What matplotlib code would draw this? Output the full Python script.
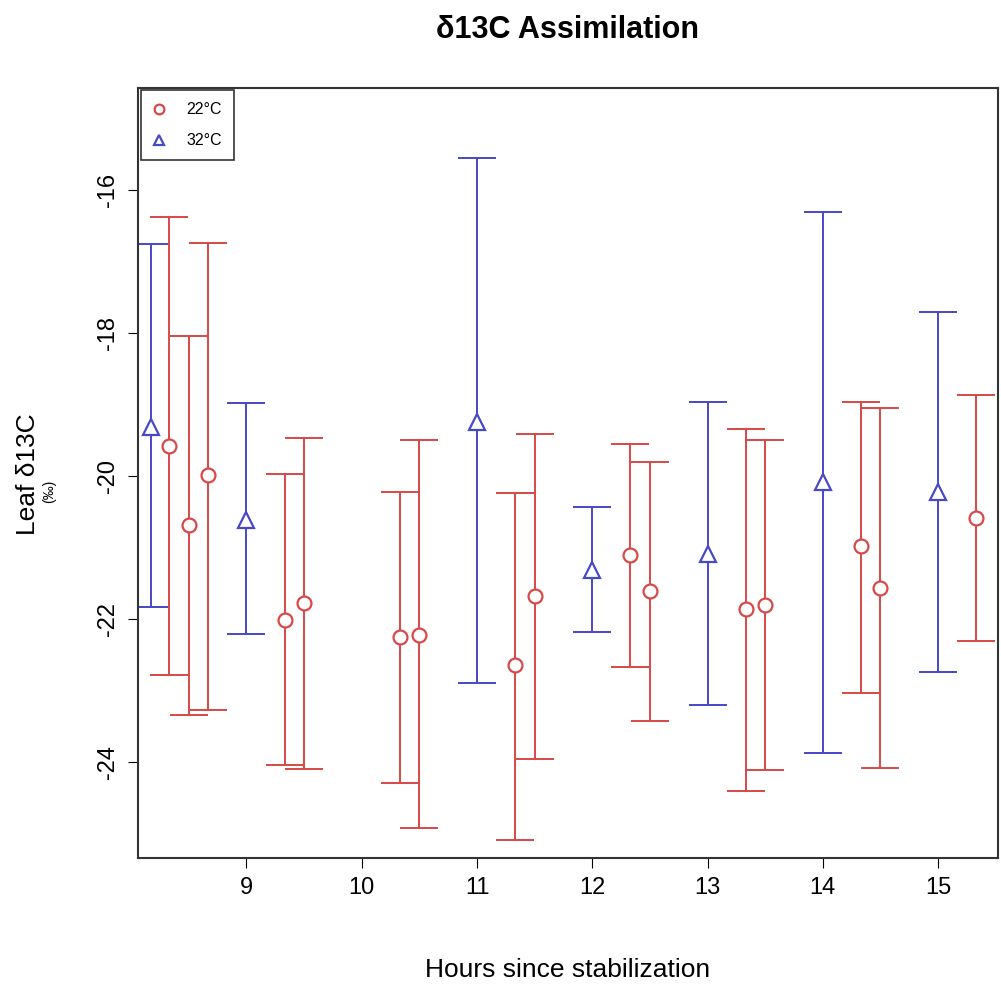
import matplotlib
matplotlib.use("Agg")
import matplotlib.pyplot as plt

plt.rcParams['font.family'] = ['Liberation Sans', 'DejaVu Sans']
plt.rcParams['axes.unicode_minus'] = False

# 22 C series (red circles)
hours_22 = [8.33, 8.5, 8.67, 9.33, 9.5, 10.33, 10.5, 11.33, 11.5, 12.33, 12.5,
            13.33, 13.5, 14.33, 14.5, 15.33]
mean_22 = [-19.58, -20.68, -19.99, -22.01, -21.78, -22.25, -22.22, -22.65, -21.68,
           -21.11, -21.61, -21.86, -21.80, -20.98, -21.57, -20.59]
upper_22 = [-16.37, -18.04, -16.74, -19.97, -19.47, -20.22, -19.49, -20.24, -19.41,
            -19.55, -19.80, -19.34, -19.50, -18.97, -19.05, -18.87]
lower_22 = [-22.79, -23.34, -23.27, -24.05, -24.10, -24.29, -24.93, -25.09, -23.96,
            -22.68, -23.43, -24.41, -24.12, -23.03, -24.09, -22.31]

# 32 C series (blue triangles)
hours_32 = [8.17, 9, 11, 12, 13, 14, 15]
mean_32 = [-19.31, -20.62, -19.25, -21.31, -21.09, -20.09, -20.22]
upper_32 = [-16.76, -18.98, -15.55, -20.43, -18.96, -16.30, -17.70]
lower_32 = [-21.83, -22.21, -22.90, -22.18, -23.21, -23.88, -22.75]

red = '#D84848'
blue = '#4848C8'

fig = plt.figure(figsize=(10.01, 9.88), dpi=100)
ax = fig.add_axes([0.138, 0.132, 0.859, 0.779])

def draw(x, m, lo, hi, col, mk, ms, label):
    err = [[a - b for a, b in zip(m, lo)], [b - a for a, b in zip(m, hi)]]
    ax.errorbar(x, m, yerr=err, fmt='none', ecolor=col, elinewidth=1.4,
                capsize=14, capthick=1.4)
    ax.plot(x, m, linestyle='none', marker=mk, markersize=ms, markerfacecolor='white',
            markeredgecolor=col, markeredgewidth=1.6, label=label, zorder=3)

draw(hours_32, mean_32, lower_32, upper_32, blue, '^', 11, '32°C')
draw(hours_22, mean_22, lower_22, upper_22, red, 'o', 10, '22°C')

ax.set_xlim(8.06, 15.52)
ax.set_ylim(-25.34, -14.57)
ax.set_xticks([9, 10, 11, 12, 13, 14, 15])
ax.set_yticks([-16, -18, -20, -22, -24])
ax.tick_params(axis='both', direction='out', length=7, labelsize=17, pad=7)
for lab in ax.get_yticklabels():
    lab.set_rotation(90)
    lab.set_va('center')
for s in ax.spines.values():
    s.set_linewidth(1.5)
    s.set_color('#333333')

handles, labels = ax.get_legend_handles_labels()
leg = ax.legend(handles[::-1], labels[::-1], loc='upper left', fontsize=11.5,
                frameon=True, fancybox=False, edgecolor='black', borderpad=0.75,
                handlelength=0.8, handletextpad=1.3, labelspacing=1.0,
                borderaxespad=0.15, markerscale=0.7)
leg.get_frame().set_linewidth(1.2)

fig.text(0.567, 0.970, 'δ13C Assimilation', ha='center', va='center',
         fontsize=22, fontweight='bold')
fig.text(0.567, 0.018, 'Hours since stabilization', ha='center', va='center', fontsize=19)
fig.text(0.028, 0.52, 'Leaf δ13C', rotation=90, ha='center', va='center', fontsize=19)
fig.text(0.049, 0.503, '(‰)', rotation=90, ha='center', va='center', fontsize=10)

fig.savefig('out.png', dpi=100)
